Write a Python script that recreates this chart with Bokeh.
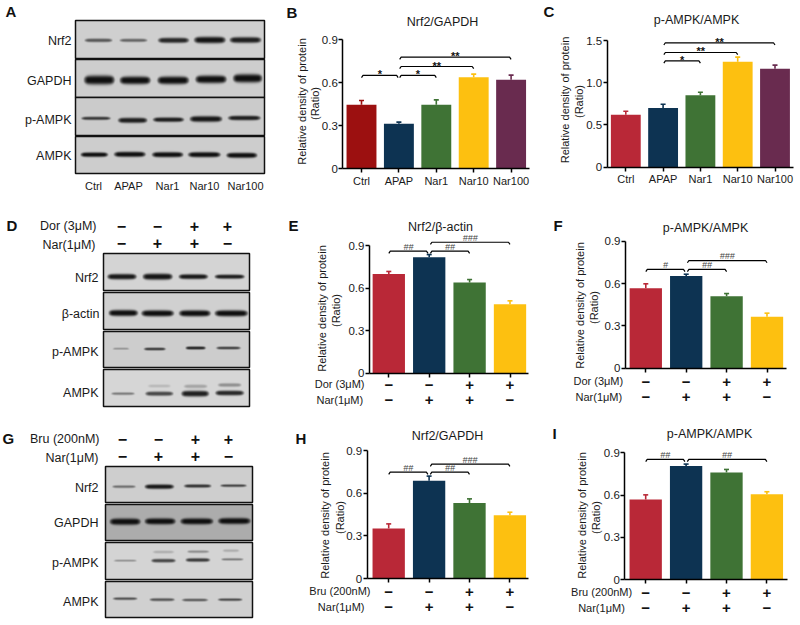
import numpy as np
from bokeh.plotting import figure
from bokeh.models import Range1d, FixedTicker, LinearAxis, LinearColorMapper
from bokeh.core.properties import value
from bokeh.palettes import Greys256
from bokeh.embed import file_html
from bokeh.resources import INLINE

FONT = "Liberation Sans"

# ---------- values ----------
cats5 = ["Ctrl", "APAP", "Nar1", "Nar10", "Nar100"]
dor = ["−", "−", "+", "+"]
nar = ["−", "+", "+", "−"]
bru = ["−", "−", "+", "+"]

b_val = [0.445, 0.313, 0.445, 0.638, 0.619]
b_err = [0.475, 0.325, 0.480, 0.659, 0.652]
c_val = [0.62, 0.70, 0.853, 1.247, 1.165]
c_err = [0.663, 0.746, 0.888, 1.303, 1.208]
e_val = [0.70, 0.818, 0.639, 0.486]
e_err = [0.717, 0.836, 0.66, 0.51]
f_val = [0.567, 0.654, 0.51, 0.364]
f_err = [0.598, 0.666, 0.529, 0.39]
h_val = [0.352, 0.687, 0.53, 0.445]
h_err = [0.384, 0.72, 0.56, 0.466]
i_val = [0.569, 0.806, 0.761, 0.607]
i_err = [0.602, 0.82, 0.782, 0.624]

b_brk = [(0, 0.98, 0.65, "*"), (1.02, 2, 0.65, "*"), (1.02, 3, 0.712, "**"), (1.02, 4, 0.777, "**")]
c_brk = [(1.02, 2, 1.259, "*"), (1.02, 3, 1.358, "**"), (1.02, 4, 1.473, "**")]
e_brk = [(0, 0.97, 0.86, "##"), (1.03, 2, 0.86, "##"), (1.03, 3, 0.923, "###")]
f_brk = [(0, 0.97, 0.70, "#"), (1.03, 2, 0.70, "##"), (1.03, 3, 0.763, "###")]
h_brk = [(0, 0.97, 0.748, "##"), (1.03, 2, 0.748, "##"), (1.03, 3, 0.804, "###")]
i_brk = [(0, 0.97, 0.853, "##"), (1.03, 3, 0.853, "##")]

DARKRED, RED, NAVY, GREEN, YELLOW, PLUM = "#9c1010", "#b92837", "#0d3352", "#3f7335", "#fdc010", "#692b4f"
col_b = [DARKRED, NAVY, GREEN, YELLOW, PLUM]
col_c = [RED, NAVY, GREEN, YELLOW, PLUM]
col_4 = [RED, NAVY, GREEN, YELLOW]

# ---------- page ----------
OX, OY = 0, 0          # where the canvas sits in the photograph
W, H = 796, 620
DARK = "#1a1a1a"

p = figure(width=W, height=H, x_range=Range1d(OX, OX + W), y_range=Range1d(OY + H, OY),
           output_backend="svg", toolbar_location=None, min_border=0)
p.outline_line_color = None
p.axis.visible = False
p.grid.visible = False


def add_text(x, y, text, size=11, align="center", bold=False, angle=0, color=DARK):
    p.text(x=[x], y=[y], text=[text], text_font=value(FONT), text_font_size=f"{size}px",
           text_align=align, text_baseline="middle", text_color=color, angle=angle, angle_units="deg",
           text_font_style="bold" if bold else "normal")


def letter(x, y, t):
    add_text(x, y, t, size=15, align="left", bold=True, color="#111111")


def bar_panel(name, vals, errs, colors, brk, x0, sp, left, right, y0, y_top_px, tick_top,
              ticks, title, title_xy, let, ylab1, ylab2, cats=None, signs=None):
    ppu = (y0 - y_top_px) / tick_top
    xn, yn = name + "x", name + "y"
    p.extra_x_ranges[xn] = Range1d((OX - x0) / sp, (OX + W - x0) / sp)
    p.extra_y_ranges[yn] = Range1d((y0 - (OY + H)) / ppu, (y0 - OY) / ppu)
    kw = dict(x_range_name=xn, y_range_name=yn)
    xs = list(range(len(vals)))
    p.vbar(x=xs, top=vals, bottom=0, width=0.8, color=colors, line_color=None, **kw)
    p.segment(x0=xs, y0=vals, x1=xs, y1=errs, line_color=colors, line_width=1.6, **kw)
    p.scatter(x=xs, y=errs, marker="dash", size=5, line_color=colors, line_width=1.6, **kw)
    tk = 2.2 / ppu
    for a, b, y, lab in brk:
        e = 1.5 / sp
        p.line([a, a + e, b - e, b], [y - tk, y, y, y - tk], line_color="black", line_width=1.2, **kw)
        star = "*" in lab
        p.text(x=[(a + b) / 2], y=[y + (1 if star else 4.5) / ppu], text=[lab], text_font=value(FONT),
               text_align="center", text_baseline="alphabetic" if star else "middle",
               text_font_size="11px" if star else "9px",
               text_font_style="bold" if star else "italic",
               text_color="#111111" if star else "#444444", **kw)
    ya = LinearAxis(fixed_location=-left, bounds=(0, tick_top), ticker=FixedTicker(ticks=ticks), **kw)
    xa = LinearAxis(fixed_location=0, bounds=(-left, right), ticker=FixedTicker(ticks=xs), **kw)
    for ax in (ya, xa):
        ax.minor_tick_line_color = None
        ax.major_tick_in = 0
        ax.major_tick_out = 4
        ax.axis_line_width = 1.5
        ax.major_tick_line_width = 1.5
        ax.major_label_text_font = FONT
        ax.major_label_text_color = DARK
    ya.major_label_standoff = 1
    ya.major_label_text_font_size = "11.5px"
    if tick_top == 1.5:
        ya.major_label_overrides = {1: "1.0"}
    xa.major_label_standoff = 2
    xa.major_label_text_font_size = "11px"
    xa.major_label_overrides = {i: c for i, c in enumerate(cats)} if cats else {i: "" for i in xs}
    p.add_layout(ya, "left")
    p.add_layout(xa, "below")
    add_text(title_xy[0], title_xy[1], title, size=12.5)
    letter(let[1], let[2], let[0])
    add_text(ylab1[0], ylab1[1], "Relative density of protein", size=11, angle=90)
    add_text(ylab2[0], ylab2[1], "(Ratio)", size=11, angle=90)
    if signs:
        for lab, arr, rx, sy, ty in signs:
            add_text(rx, ty, lab, size=11, align="right")
            for i, s in enumerate(arr):
                add_text(x0 + i * sp, sy, s, size=15, bold=True, color="#111111")


# ---------- blots: strip = (name, top, bottom, grey, bands); band = (x1, x2, y, thickness, darkness)
blot_a = dict(ox=0, oy=0, x1=226, x2=792, strips=[
    ("Nrf2", 60, 174, 207, [(250, 335, 118, 11, .62), (355, 440, 118, 10, .55), (470, 565, 118, 16, .88),
                            (578, 675, 117, 20, .97), (685, 782, 117, 18, .92)]),
    ("GAPDH", 176, 290, 205, [(248, 342, 237, 28, 1), (355, 450, 238, 24, 1), (468, 565, 238, 24, 1),
                              (582, 678, 235, 24, 1), (695, 785, 232, 26, 1)]),
    ("p-AMPK", 292, 405, 203, [(240, 330, 352, 10, .78), (350, 440, 358, 16, .92), (455, 550, 356, 14, .92),
                               (565, 665, 354, 18, .96), (680, 780, 351, 14, .92)]),
    ("AMPK", 407, 520, 205, [(238, 322, 461, 14, 1), (338, 435, 460, 16, 1), (452, 548, 461, 16, 1),
                             (560, 660, 461, 16, 1), (675, 770, 463, 16, 1)]),
])
blot_d = dict(ox=0, oy=210, x1=310, x2=748, strips=[
    ("Nrf2", 130, 240, 212, [(318, 408, 197, 17, .95), (424, 516, 197, 19, .97), (532, 622, 197, 15, .95),
                             (640, 732, 197, 13, .92)]),
    ("β-actin", 245, 357, 208, [(322, 412, 306, 19, 1), (420, 520, 307, 19, 1), (533, 630, 307, 19, 1),
                                (640, 742, 307, 19, 1)]),
    ("p-AMPK", 362, 472, 205, [(335, 385, 413, 5, .35), (428, 495, 414, 8, .82), (553, 615, 411, 9, .92),
                               (645, 720, 411, 8, .78)]),
    ("AMPK", 476, 587, 214, [(330, 402, 548, 8, .45), (432, 518, 548, 13, .72), (440, 510, 525, 9, .15),
                             (540, 625, 548, 18, .92), (548, 620, 526, 11, .25), (642, 730, 546, 15, .88),
                             (650, 722, 522, 11, .35)]),
])
blot_g = dict(ox=0, oy=415, x1=316, x2=755, strips=[
    ("Nrf2", 153, 262, 206, [(333, 405, 212, 8, .5), (430, 520, 212, 14, .95), (548, 632, 210, 10, .82),
                             (657, 738, 209, 8, .72)]),
    ("GAPDH", 266, 376, 172, [(325, 420, 317, 20, 1), (430, 525, 316, 19, 1), (537, 638, 316, 19, 1),
                              (650, 750, 315, 19, 1)]),
    ("p-AMPK", 381, 493, 212, [(338, 408, 434, 6, .35), (450, 525, 434, 11, .72), (455, 520, 408, 8, .2),
                               (553, 628, 432, 11, .78), (558, 625, 407, 8, .35), (660, 728, 430, 7, .45),
                               (665, 715, 404, 8, .2)]),
    ("AMPK", 497, 607, 208, [(335, 410, 548, 8, .65), (445, 522, 551, 9, .62), (542, 622, 552, 8, .62),
                             (650, 725, 551, 8, .68)]),
])


def strip_array(w, h, base, bands, x_left, y_top, ox, oy):
    yy, xx = np.mgrid[0:h, 0:w]
    px = xx + x_left
    py = yy + y_top
    arr = np.full((h, w), float(base))
    for x1, x2, yc, th, d in bands:
        a, b = ox + x1 / 3, ox + x2 / 3
        c, hw = (a + b) / 2, (b - a) / 2
        u = np.clip(np.abs(px - c) / hw, 0, 1.3)
        taper = np.clip(1 - u ** 4, 0, 1) ** 0.5
        hh = np.maximum(th / 6 * (0.35 + 0.65 * taper), 0.2)
        v = np.exp(-np.abs((py - (oy + yc / 3)) / hh) ** 3) * np.clip(1.15 - u ** 6, 0, 1)
        arr = arr - (arr - 15) * np.clip(d * v, 0, 1)
    return arr


mapper = LinearColorMapper(palette=Greys256, low=0, high=255)
# blots are placed through a second, upward y range so that image rows stay in order
p.extra_y_ranges["up"] = Range1d(-(OY + H), -OY)


def draw_blot(blot):
    ox, oy = blot["ox"], blot["oy"]
    L, R = ox + blot["x1"] / 3, ox + blot["x2"] / 3
    for name, t, b, base, bands in blot["strips"]:
        T, B = oy + t / 3, oy + b / 3
        il, it = int(round(L)), int(round(T))
        w, h = int(round(R)) - il, int(round(B)) - it
        arr = strip_array(w, h, base, bands, il, it, ox, oy)
        p.image(image=[arr[::-1]], x=il, y=-(it + h), dw=w, dh=h, color_mapper=mapper, y_range_name="up")
        p.quad(left=il, right=il + w, bottom=it + h, top=it, fill_color=None, line_color="#111111", line_width=1.5)


for bl in (blot_a, blot_d, blot_g):
    draw_blot(bl)

# ---------- panel A ----------
letter(5, 11, "A")
for t, y in zip(["Nrf2", "GAPDH", "p-AMPK", "AMPK"], [40, 80, 119, 155]):
    add_text(71, y, t, size=12.5, align="right")
for t, x in zip(cats5, [93, 128, 167, 204, 245]):
    add_text(x, 185, t, size=11)

# ---------- panel D ----------
letter(6, 225, "D")
for t, y, rx in zip(["Nrf2", "β-actin", "p-AMPK", "AMPK"], [277, 313, 351, 392], [98, 99, 98, 98]):
    add_text(rx, y, t, size=12.5, align="right")
add_text(96, 225, "Dor (3μM)", size=12.5, align="right")
add_text(95, 244, "Nar(1μM)", size=12.5, align="right")
for xz, a, b in zip([121, 157, 194, 227], dor, nar):
    add_text(xz, 225, a, size=16, bold=True, color="#111111")
    add_text(xz, 242, b, size=16, bold=True, color="#111111")

# ---------- panel G ----------
letter(2, 438, "G")
for t, y in zip(["Nrf2", "GAPDH", "p-AMPK", "AMPK"], [487, 522, 562, 601]):
    add_text(98, y, t, size=12.5, align="right")
add_text(99, 438, "Bru (200nM)", size=12.5, align="right")
add_text(98, 457, "Nar(1μM)", size=12.5, align="right")
for xz, a, b in zip([122, 158, 195, 228], bru, nar):
    add_text(xz, 438, a, size=16, bold=True, color="#111111")
    add_text(xz, 455, b, size=16, bold=True, color="#111111")

# ---------- bar panels ----------
bar_panel("b", b_val, b_err, col_b, b_brk, 361, 37.4, 0.5, 4.5, 168.3, 39, 0.9, [0, .3, .6, .9],
          "Nrf2/GAPDH", (442, 21), ("B", 286, 12), (301, 101), (314, 103), cats=cats5)
bar_panel("c", c_val, c_err, col_c, c_brk, 625.3, 37.3, 0.5, 4.5, 166.7, 40, 1.5, [0, .5, 1, 1.5],
          "p-AMPK/AMPK", (696, 19), ("C", 543, 11), (564, 99.5), (578.7, 101), cats=cats5)
bar_panel("e", e_val, e_err, col_4, e_brk, 388.3, 40.4, 0.48, 3.465, 372.7, 245, 0.9, [0, .3, .6, .9],
          "Nrf2/β-actin", (440, 226), ("E", 288, 225), (321.7, 308), (335.7, 310),
          signs=[("Dor (3μM)", dor, 364, 384.3, 383), ("Nar(1μM)", nar, 362.7, 399.3, 399)])
bar_panel("f", f_val, f_err, col_4, f_brk, 645.3, 40.4, 0.503, 3.495, 367.7, 240.7, 0.9, [0, .3, .6, .9],
          "p-AMPK/AMPK", (705, 227), ("F", 553, 225), (579, 305), (593, 307),
          signs=[("Dor (3μM)", dor, 622.7, 381, 380), ("Nar(1μM)", nar, 621.7, 396.7, 396.7)])
bar_panel("h", h_val, h_err, col_4, h_brk, 388.2, 40.4, 0.532, 3.467, 578, 450, 0.9, [0, .3, .6, .9],
          "Nrf2/GAPDH", (447, 435), ("H", 295, 438), (324, 515), (339, 517),
          signs=[("Bru (200nM)", bru, 370, 591, 590), ("Nar(1μM)", nar, 364, 606, 606)])
bar_panel("i", i_val, i_err, col_4, i_brk, 645.2, 40.4, 0.516, 3.5, 579.3, 452.3, 0.9, [0, .3, .6, .9],
          "p-AMPK/AMPK", (709, 433), ("I", 552, 433), (581, 515), (595.7, 517),
          signs=[("Bru (200nM)", bru, 631.7, 592.7, 591), ("Nar(1μM)", nar, 624.3, 607.7, 607.7)])

open("out.html", "w").write(file_html(p, INLINE))
